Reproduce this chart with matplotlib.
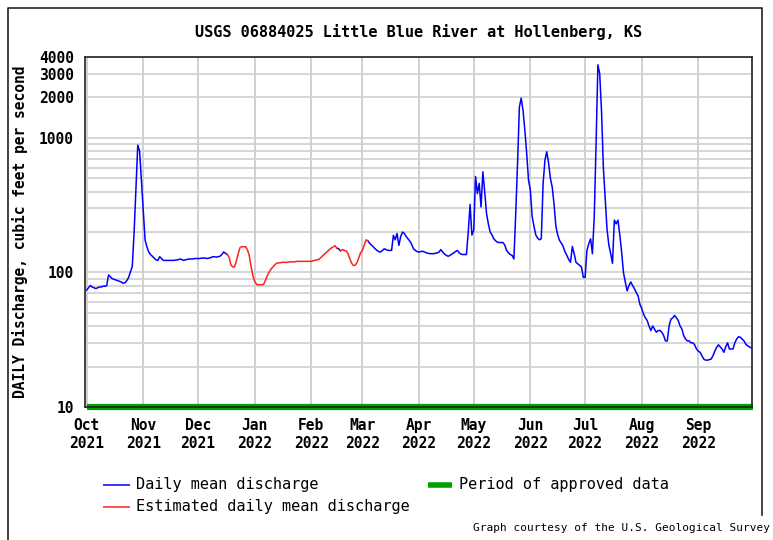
import numpy as np
import pandas as pd
import matplotlib
matplotlib.use("Agg")
import matplotlib.pyplot as plt
import matplotlib.dates as mdates
from matplotlib.lines import Line2D

# ---------------- data ----------------
title = "USGS 06884025 Little Blue River at Hollenberg, KS"
ylabel = "DAILY Discharge, cubic feet per second"
start_date = "2021-10-01"

oct21 = [74, 77, 80, 78, 77, 76, 77, 78, 78, 79, 79, 80, 96, 93, 90, 89, 88, 87, 86, 85,
         83, 84, 87, 92, 101, 111, 200, 420, 885, 800, 480]
nov21 = [280, 175, 155, 142, 136, 132, 128, 124, 123, 131, 127, 123, 123, 123, 123, 123,
         123, 123, 124, 124, 126, 125, 123, 124, 125, 126, 126, 126, 127, 127]
dec21 = [127, 127, 128, 128, 128, 127, 128, 129, 131, 131, 130, 131, 132, 136, 142, 139,
         136, 130, 114, 110, 110, 122, 138, 153, 156, 155, 156, 148, 135, 112, 95]
jan22 = [86, 82, 81, 81, 81, 82, 88, 95, 101, 106, 110, 114, 117, 118, 118, 119, 119, 119,
         119, 120, 120, 120, 120, 121, 121, 121, 121, 121, 121, 121, 121]
feb22 = [121, 122, 123, 124, 125, 128, 132, 136, 140, 144, 148, 152, 155, 158, 152, 150,
         145, 148, 146, 145, 140, 128, 118, 113, 113, 118, 128, 140]
mar22 = [146, 160, 175, 172, 165, 160, 155, 150, 146, 143, 142, 146, 150, 148, 146, 146,
         146, 189, 175, 195, 159, 185, 200, 195, 185, 178, 171, 162, 150, 146, 143]
apr22 = [142, 143, 144, 142, 140, 139, 138, 138, 138, 139, 140, 142, 148, 142, 137, 134,
         132, 134, 137, 140, 143, 146, 140, 137, 136, 136, 136, 200, 320, 190]
may22 = [206, 516, 386, 460, 307, 560, 400, 275, 230, 200, 190, 178, 172, 168, 167, 167,
         167, 160, 146, 140, 136, 134, 126, 275, 650, 1700, 1980, 1600, 1140, 770, 486]
jun22 = [410, 260, 220, 190, 180, 175, 178, 460, 685, 790, 650, 500, 430, 320, 220, 190,
         173, 165, 156, 142, 134, 125, 119, 156, 138, 119, 116, 113, 110, 92]
jul22 = [92, 146, 164, 178, 138, 260, 900, 3500, 3000, 1570, 600, 350, 210, 160, 138, 117,
         245, 230, 245, 190, 142, 100, 85, 73, 80, 85, 80, 76, 71, 67, 58]
aug22 = [54, 49, 46, 44, 40, 37, 40, 38, 36, 37, 37, 36, 34, 31, 31, 40, 45, 46, 48, 46,
         44, 40, 38, 34, 32, 31, 31, 30, 30, 29, 27]
sep22 = [26, 25.5, 24, 22.7, 22.3, 22.3, 22.5, 22.7, 24, 26, 27.7, 29, 28, 27, 25.5, 28,
         30, 27, 27, 27, 30, 32, 33.3, 33, 32, 31, 29.3, 28.5, 28, 27.5]

# estimated (red) periods
est_periods = [("2021-12-18", "2022-02-14"), ("2022-02-18", "2022-03-03")]

month_labels = ["Oct\n2021", "Nov\n2021", "Dec\n2021", "Jan\n2022", "Feb\n2022", "Mar\n2022",
                "Apr\n2022", "May\n2022", "Jun\n2022", "Jul\n2022", "Aug\n2022", "Sep\n2022"]
ytick_values = [10, 100, 1000, 2000, 3000, 4000]
ytick_labels = ["10", "100", "1000", "2000", "3000", "4000"]

legend_daily = "Daily mean discharge"
legend_est = "Estimated daily mean discharge"
legend_approved = "Period of approved data"
footer = "Graph courtesy of the U.S. Geological Survey"

# ---------------- build ----------------
values = np.array(oct21 + nov21 + dec21 + jan22 + feb22 + mar22 + apr22 + may22 +
                  jun22 + jul22 + aug22 + sep22, dtype=float)
dates = pd.date_range(start_date, periods=len(values), freq="D")
est = np.zeros(len(values), dtype=bool)
for a, b in est_periods:
    est |= (dates >= pd.Timestamp(a)) & (dates <= pd.Timestamp(b))
red_mask = est.copy()
red_mask[1:] |= est[:-1]
red_mask[:-1] |= est[1:]
blue_vals = np.where(~est, values, np.nan)
red_vals = np.where(red_mask, values, np.nan)

BLUE = "#0000ff"
RED = "#ff2020"
GREEN = "#00a000"
GRID = "#d0d0d0"
MONO = "DejaVu Sans Mono"

W, H = 773, 540
fig = plt.figure(figsize=(W / 100, H / 100), dpi=100)
fig.patch.set_facecolor("white")
ax = fig.add_axes([85 / W, 1 - 407 / H, 667 / W, 350 / H])

ax.set_yscale("log")
ax.set_ylim(10, 4000)
x0 = mdates.date2num(pd.Timestamp(start_date)) - 0.9
ax.set_xlim(x0, x0 + 365.3)

# grid
month_starts = pd.date_range(start_date, periods=12, freq="MS")
ax.set_xticks(month_starts)
ax.set_xticklabels(month_labels, fontsize=10.5, fontweight="bold", family=MONO,
                   linespacing=1.25)
ax.set_yticks(ytick_values)
ax.set_yticklabels(ytick_labels, fontsize=10.5, fontweight="bold", family=MONO)
minor = [m * 10 ** e for e in (1, 2) for m in range(2, 10)]
ax.set_yticks(minor, minor=True)
ax.yaxis.set_minor_formatter(plt.NullFormatter())
ax.tick_params(axis="both", which="both", length=0)
ax.tick_params(axis="y", pad=8)
ax.tick_params(axis="x", pad=8)
ax.grid(True, which="both", axis="y", color=GRID, lw=1.2)
ax.grid(True, which="major", axis="x", color=GRID, lw=1.4)
ax.set_axisbelow(True)
for s in ax.spines.values():
    s.set_color("#222222")
    s.set_linewidth(1.2)

# approved-data bar
ax.plot([dates[0], dates[-1] + pd.Timedelta(days=1)], [10, 10], color=GREEN, lw=4.5,
        solid_capstyle="butt", clip_on=False, zorder=2)
ax.plot(dates, blue_vals, color=BLUE, lw=1.1, zorder=3)
ax.plot(dates, red_vals, color=RED, lw=1.1, zorder=3)

# title / labels
fig.text(418.5 / W, 1 - 32 / H, title, ha="center", va="center", fontsize=11,
         fontweight="bold", family=MONO)
fig.text(20 / W, 1 - 232 / H, ylabel, rotation=90, ha="center", va="center",
         fontsize=10.5, fontweight="bold", family=MONO)

# legend
def leg_item(x1, x2, xt, y, color, lw, text):
    fig.add_artist(Line2D([x1 / W, x2 / W], [1 - y / H, 1 - y / H], color=color, lw=lw,
                          solid_capstyle="butt"))
    fig.text(xt / W, 1 - y / H, text, ha="left", va="center", fontsize=11, family=MONO)

leg_item(103, 130, 136, 485, BLUE, 1.1, legend_daily)
leg_item(103, 130, 136, 507, RED, 1.1, legend_est)
leg_item(428, 452, 459, 485, GREEN, 4, legend_approved)

fig.text(770 / W, 1 - 528 / H, footer, ha="right", va="center", fontsize=8, family=MONO)

# frame around the graphic
fig.add_artist(Line2D([8 / W, 8 / W, 762 / W, 762 / W], [0, 1 - 8 / H, 1 - 8 / H, 1 - 515 / H],
                      color="#222222", lw=1.2))

fig.savefig("out.png", dpi=100)
